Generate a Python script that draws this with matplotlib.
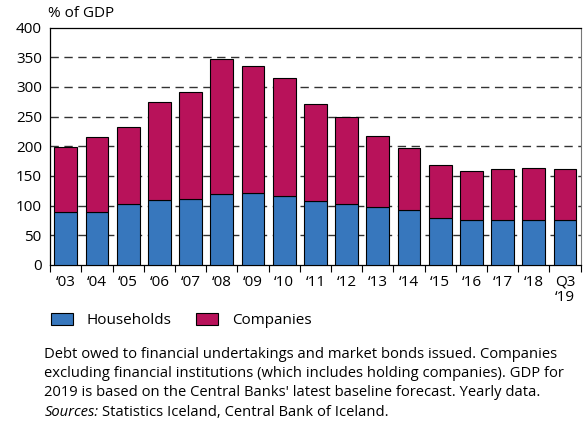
import numpy as np
import matplotlib.pyplot as plt

plt.rcParams['font.family'] = ['Open Sans', 'DejaVu Sans']

# Data (% of GDP)
years = ["\u201803", "\u201804", "\u201805", "\u201806", "\u201807", "\u201808", "\u201809",
         "\u201810", "\u201811", "\u201812", "\u201813", "\u201814", "\u201815", "\u201816",
         "\u201817", "\u201818", "Q3\n\u201819"]
households = [89, 90, 102, 110, 112, 119, 121, 116, 107, 103, 98, 92, 80, 75, 75, 75, 76]
totals = [198, 215, 233, 274, 292, 347, 336, 315, 271, 249, 217, 197, 169, 158, 161, 163, 161]
companies = [t - h for t, h in zip(totals, households)]

note_lines = ["Debt owed to financial undertakings and market bonds issued. Companies",
              "excluding financial institutions (which includes holding companies). GDP for",
              "2019 is based on the Central Banks' latest baseline forecast. Yearly data."]

blue = "#3777bd"
crimson = "#b8125a"

fig = plt.figure(figsize=(5.83, 4.24), dpi=100)
ax = fig.add_axes([0.086, 0.375, 0.91, 0.56])

x = np.arange(len(years))
ax.bar(x, households, width=0.73, color=blue, edgecolor="black", linewidth=0.8,
       label="Households", zorder=3)
ax.bar(x, companies, width=0.73, bottom=households, color=crimson, edgecolor="black",
       linewidth=0.8, label="Companies", zorder=3)

ax.set_xlim(-0.5, len(years) - 0.5)
ax.set_ylim(0, 400)
ax.set_yticks(range(0, 401, 50))
for yv in range(50, 400, 50):
    ax.axhline(yv, color="#333333", linestyle=(0, (6, 4)), linewidth=1.0, zorder=1)

ax.set_xticks(x)
ax.set_xticklabels(years, fontsize=11, linespacing=1.05)
ax.set_xticks(np.arange(-0.5, len(years), 1), minor=True)
ax.tick_params(axis="x", which="major", length=0, pad=7)
ax.tick_params(axis="x", which="minor", length=5, direction="out", width=0.8)
ax.tick_params(axis="y", length=0, labelsize=11, pad=6)

for side in ["top", "left", "bottom"]:
    ax.spines[side].set_linewidth(0.9)
ax.spines["right"].set_color("#777777")

fig.text(0.083, 0.968, "% of GDP", fontsize=11, va="center", ha="left")

leg = ax.legend(loc="center left", bbox_to_anchor=(-0.025, -0.235), ncol=2, frameon=False,
                fontsize=11, handlelength=1.45, handleheight=0.75, handletextpad=0.9,
                columnspacing=1.6)

for i, line in enumerate(note_lines):
    fig.text(0.076, 1 - (355 + 18.7 * i) / 424, line, fontsize=10.6, va="center", ha="left")
src = fig.text(0.076, 1 - 412 / 424, "Sources:", fontsize=10.6, style="italic",
               va="center", ha="left")
fig.canvas.draw()
bb = src.get_window_extent().transformed(fig.transFigure.inverted())
fig.text(bb.x1 + 0.006, 1 - 412 / 424, "Statistics Iceland, Central Bank of Iceland.",
         fontsize=10.6, va="center", ha="left")

fig.savefig("out.png", dpi=100)
